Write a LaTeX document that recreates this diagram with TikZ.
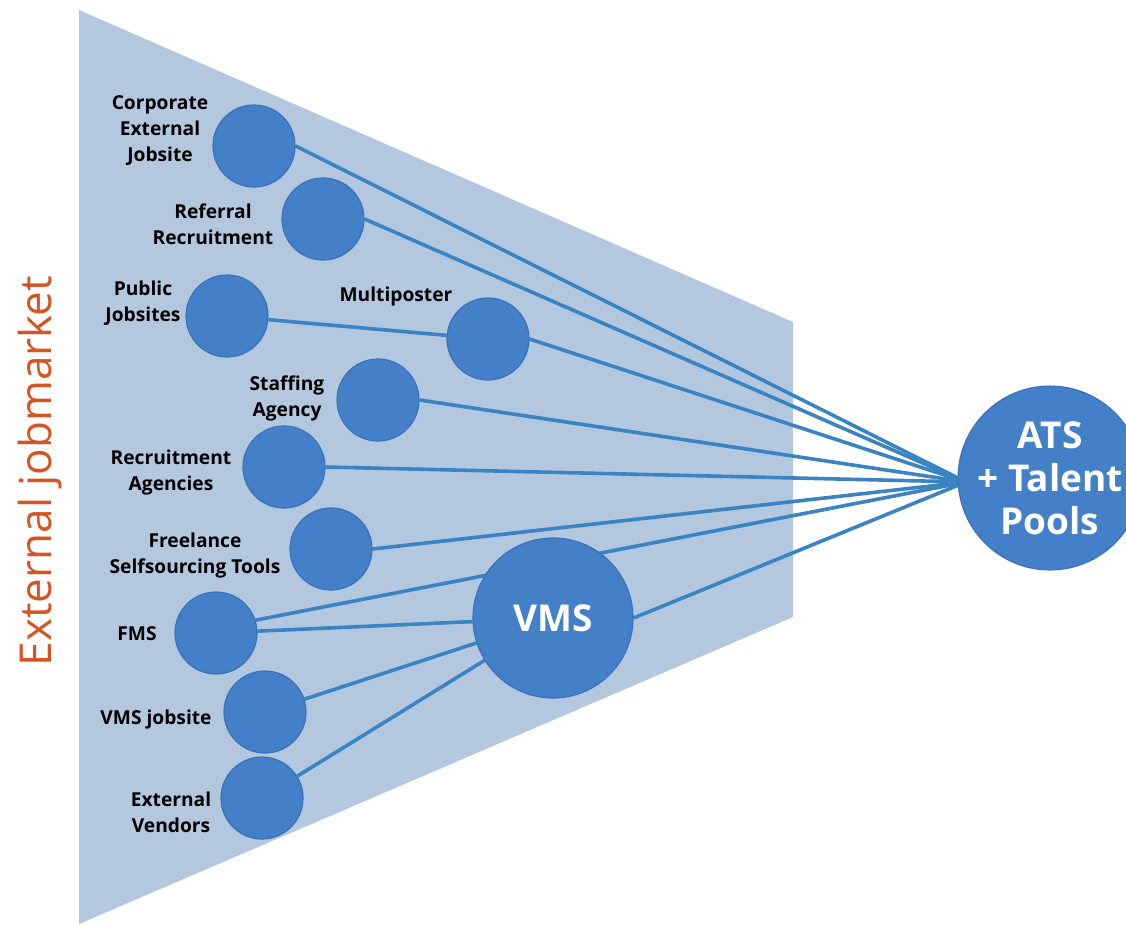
\documentclass[tikz,border=0pt]{standalone}
\usepackage{fontspec}
\setmainfont{Open Sans}
\definecolor{funnel}{RGB}{179,200,223}
\definecolor{dotblue}{RGB}{68,128,199}
\definecolor{dotedge}{RGB}{56,114,188}
\definecolor{linkblue}{RGB}{58,132,196}
\definecolor{marketorange}{RGB}{214,84,34}
\pgfdeclarelayer{back}
\pgfdeclarelayer{links}
\pgfsetlayers{back,links,main}
\tikzset{
  dot/.style={circle, fill=dotblue, draw=dotedge, line width=1.2pt, minimum size=82pt, inner sep=0pt},
  bigdot/.style={dot, text=white, font=\bfseries\fontsize{37}{43}\selectfont, align=center},
  lbl/.style={font=\bfseries\fontsize{19.2}{26}\selectfont, align=center, text=black, inner sep=0pt},
  link/.style={draw=linkblue, line width=3.6pt}
}
\begin{document}
\begin{tikzpicture}[x=1pt,y=-1pt]
\useasboundingbox (0,0) rectangle (1126,924);
\clip (0,0) rectangle (1126,924);

% channel nodes
\node[dot] (corp)   at (254,146) {};
\node[dot] (ref)    at (323,219) {};
\node[dot] (pub)    at (227,316) {};
\node[dot] (multi)  at (488,339) {};
\node[dot] (staff)  at (378,400) {};
\node[dot] (ragency) at (284,467) {};
\node[dot] (free)   at (331,549) {};
\node[dot] (fms)    at (216,633) {};
\node[dot] (vmsjob) at (265,712) {};
\node[dot] (extv)   at (262,798) {};
\node[bigdot, minimum size=160pt] (vms) at (553,618) {VMS};
\node[bigdot, minimum size=174pt] (ats) at (1050,478) {ATS\\+ Talent\\Pools};
\coordinate (hub) at (966,482);

% labels
\node[lbl] (corpL)  at (160,131) {Corporate\\External\\Jobsite};
\node[lbl] (refL)   at (213,224) {Referral\\Recruitment};
\node[lbl] (pubL)   at (143,303) {Public\\Jobsites};
\node[lbl] (multiL) at (396,297) {Multiposter};
\node[lbl] (staffL) at (287,398) {Staffing\\Agency};
\node[lbl] (ragL)   at (171,473) {Recruitment\\Agencies};
\node[lbl] (freeL)  at (195,556) {Freelance\\Selfsourcing Tools};
\node[lbl] (fmsL)   at (137,634) {FMS};
\node[lbl] (vjL)    at (156,719) {VMS jobsite};
\node[lbl] (evL)    at (171,812) {External\\Vendors};

\node[rotate=90, text=marketorange, font=\fontsize{44}{50}\selectfont, inner sep=0pt]
  (market) at (40,471) {External jobmarket};

% funnel background
\begin{pgfonlayer}{back}
  \fill[funnel] (79,10) -- (793,322) -- (793,617) -- (79,924) -- cycle;
\end{pgfonlayer}

% connectors
\begin{pgfonlayer}{links}
  \draw[link] (corp.east) -- (hub);
  \draw[link] (ref.east) -- (hub);
  \draw[link] (pub) -- (multi);
  \draw[link] (multi.east) -- (hub);
  \draw[link] (staff.east) -- (hub);
  \draw[link] (ragency.east) -- (hub);
  \draw[link] (free.east) -- (hub);
  \draw[link] (fms.18) -- (hub);
  \draw[link] (fms) -- (vms);
  \draw[link] (vmsjob) -- (vms);
  \draw[link] (extv) -- (vms);
  \draw[link] (vms.east) -- (hub);
\end{pgfonlayer}
\end{tikzpicture}
\end{document}
